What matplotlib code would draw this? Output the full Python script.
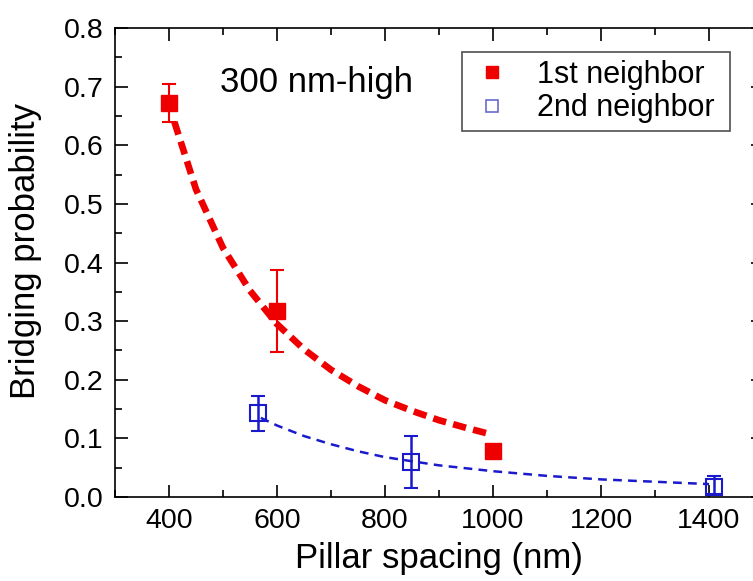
import matplotlib.pyplot as plt
from matplotlib.lines import Line2D
import numpy as np

plt.rcParams['font.family'] = ['Liberation Sans', 'DejaVu Sans']

# data
x_first = [400, 600, 1000]
y_first = [0.672, 0.318, 0.078]
err_first_lo = [0.032, 0.070, 0.010]
err_first_hi = [0.033, 0.070, 0.010]

x_second = [565, 848, 1410]
y_second = [0.143, 0.060, 0.017]
err_second_lo = [0.030, 0.045, 0.012]
err_second_hi = [0.030, 0.044, 0.018]

# fitted curves
fit1_x = [410, 450, 500, 550, 600, 650, 700, 750, 800, 850, 900, 950, 1000]
fit1_y = [0.640, 0.525, 0.425, 0.352, 0.295, 0.252, 0.217, 0.189, 0.165, 0.147, 0.131, 0.118, 0.106]
fit2_x = [570, 600, 650, 700, 750, 800, 850, 900, 1000, 1100, 1200, 1300, 1400]
fit2_y = [0.135, 0.122, 0.104, 0.090, 0.078, 0.068, 0.061, 0.054, 0.044, 0.036, 0.030, 0.026, 0.022]

red = '#ee0000'
blue = '#1a1acc'

fig = plt.figure(figsize=(7.53, 5.81), dpi=100)
ax = fig.add_axes([0.1527, 0.1446, 0.8606, 0.807])

ax.plot(fit1_x, fit1_y, color=red, lw=4.8, ls=(0, (2.0, 1.1)))
ax.plot(fit2_x, fit2_y, color=blue, lw=1.8, ls=(0, (3.5, 2.5)))

ax.errorbar(x_first, y_first, yerr=[err_first_lo, err_first_hi], fmt='s', color=red,
            ms=11, mec=red, mfc=red, ecolor=red, elinewidth=1.5, capsize=5, capthick=1.5)
ax.errorbar(x_second, y_second, yerr=[err_second_lo, err_second_hi], fmt='s', color=blue,
            ms=12, mec=blue, mfc='none', mew=1.5, ecolor=blue, elinewidth=1.8, capsize=5,
            capthick=1.8)

ax.set_xlim(300, 1500)
ax.set_ylim(0, 0.8)
ax.set_xticks([400, 600, 800, 1000, 1200, 1400])
ax.set_xticks(np.arange(300, 1501, 100), minor=True)
ax.set_yticks(np.arange(0, 0.81, 0.1))
ax.set_yticks(np.arange(0, 0.81, 0.05), minor=True)
ax.set_yticklabels(['%.1f' % v for v in np.arange(0, 0.81, 0.1)])
ax.tick_params(which='both', direction='in', top=True, right=True, labelsize=20.5)
ax.tick_params(which='major', length=9, width=1.2, pad=8)
ax.tick_params(which='minor', length=5, width=1.2)
for s in ax.spines.values():
    s.set_linewidth(1.2)

ax.set_xlabel('Pillar spacing (nm)', fontsize=25, labelpad=6)
ax.set_ylabel('Bridging probability', fontsize=25)
ax.yaxis.set_label_coords(-0.113, 0.525)

ax.text(0.162, 0.885, '300 nm-high', transform=ax.transAxes, fontsize=25, va='center')

handles = [Line2D([], [], ls='none', marker='s', ms=8, color=red),
           Line2D([], [], ls='none', marker='s', ms=8, mfc='none', mec='#6a6ad0', mew=1.2)]
leg = ax.legend(handles, ['1st neighbor ', '2nd neighbor '], loc='upper left',
                bbox_to_anchor=(0.535, 0.949), fontsize=22, frameon=True,
                fancybox=False, edgecolor='#222222', handlelength=1.5, handletextpad=0.7,
                borderpad=0.25, labelspacing=0.12, borderaxespad=0)
leg.get_frame().set_linewidth(1.2)

fig.savefig('out.png', dpi=100)
